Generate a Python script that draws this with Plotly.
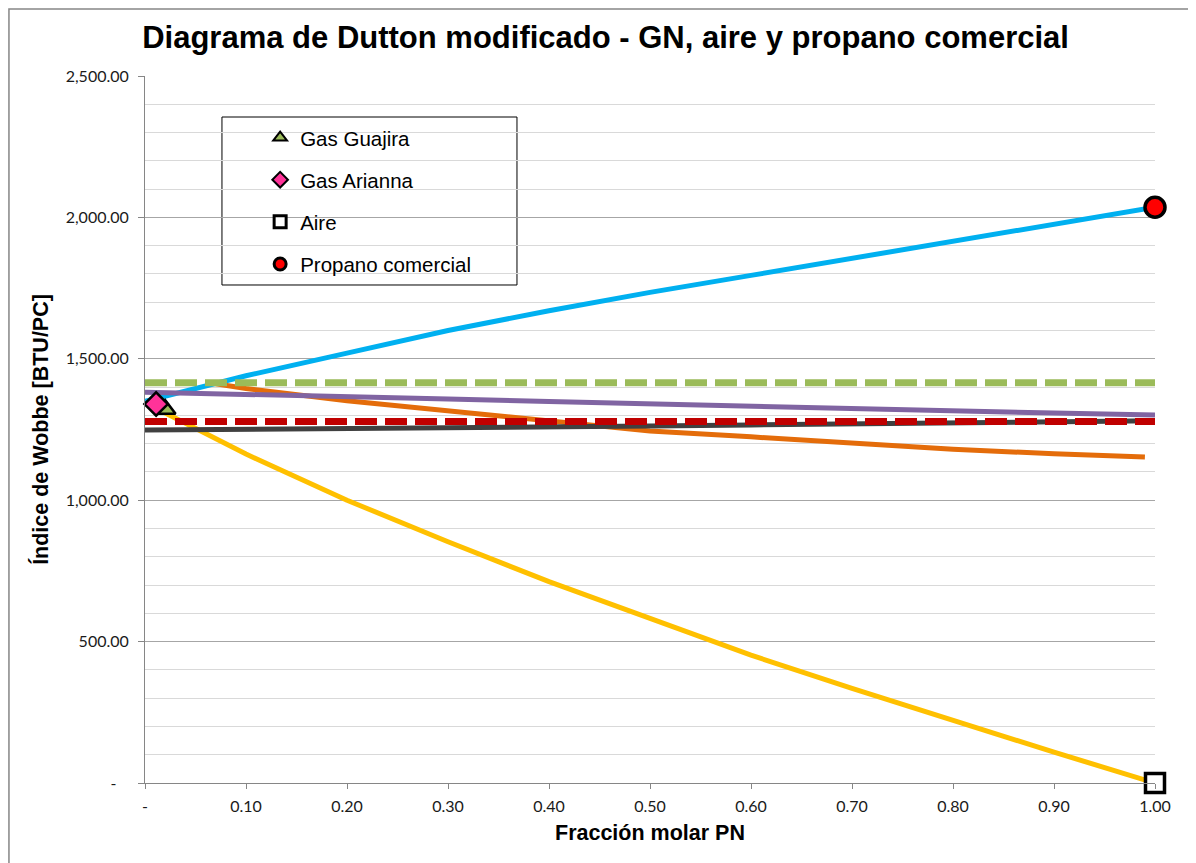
# =========================================================
# Diagrama de Dutton modificado - GN, aire y propano comercial
# =========================================================

import plotly.graph_objects as go


# =========================================================
# Datos
# =========================================================

fraccion_pn = [0.0, 0.1, 0.2, 0.3, 0.4, 0.5, 0.6, 0.7, 0.8, 0.9, 1.0]

wobbe_mezcla_propano = [1350, 1440, 1520, 1600, 1670, 1735, 1795, 1855, 1915, 1975, 2036]
wobbe_mezcla_aire = [1345, 1163, 1000, 853, 712, 580, 452, 335, 220, 109, 0]
wobbe_morado = [1382, 1375, 1367, 1358, 1349, 1340, 1331, 1323, 1315, 1308, 1301]
wobbe_gris = [1248, 1250, 1253, 1256, 1259, 1262, 1266, 1270, 1274, 1277, 1281]

fraccion_naranja = [0.07, 0.1, 0.2, 0.3, 0.4, 0.5, 0.6, 0.7, 0.8, 0.9, 0.99]
wobbe_naranja = [1412, 1395, 1352, 1316, 1281, 1245, 1224, 1200, 1180, 1164, 1153]

limite_x = [0.0, 1.0]
limite_superior = [1415, 1415]
limite_inferior = [1278, 1278]

puntos_nombres = ["Gas Guajira", "Gas Arianna", "Aire", "Propano comercial"]
puntos_x = [0.02, 0.011, 1.0, 1.0]
puntos_y = [1322, 1340, 0, 2036]

ticks_y = [0, 500, 1000, 1500, 2000, 2500]
ticks_x = [0.0, 0.1, 0.2, 0.3, 0.4, 0.5, 0.6, 0.7, 0.8, 0.9, 1.0]


# =========================================================
# Estilos
# =========================================================

marcadores = {
    "Gas Guajira": dict(symbol="triangle-up", color="#9BBB59", size=18, lw=2.5),
    "Gas Arianna": dict(symbol="diamond", color="#FF3399", size=18, lw=2.5),
    "Aire": dict(symbol="square", color="#FFFFFF", size=19, lw=3.5),
    "Propano comercial": dict(symbol="circle", color="#FF0000", size=20, lw=3.5),
}

FUENTE = "Liberation Sans, Arial, sans-serif"
FUENTE_EJES = "Lato, Calibri, sans-serif"


def etiqueta_y(v):
    if v == 0:
        return "-\u00a0\u00a0\u00a0"
    return f"{v:,.2f}"


def etiqueta_x(v):
    if v == 0:
        return "-"
    return f"{v:.2f}"


fig = go.Figure()


# =========================================================
# Líneas
# =========================================================

lineas = [
    (fraccion_pn, wobbe_mezcla_aire, "#FFC000", "solid", 5),
    (fraccion_pn, wobbe_mezcla_propano, "#00B0F0", "solid", 5),
    (fraccion_naranja, wobbe_naranja, "#E46C0A", "solid", 5),
    (fraccion_pn, wobbe_morado, "#8064A2", "solid", 5),
    (fraccion_pn, wobbe_gris, "#404040", "solid", 5),
    (limite_x, limite_inferior, "#C00000", "22px,8px", 7),
    (limite_x, limite_superior, "#9BBB59", "22px,8px", 7),
]

for xs, ys, color, dash, ancho in lineas:

    fig.add_trace(
        go.Scatter(
            x=xs,
            y=ys,
            mode="lines",
            line=dict(color=color, width=ancho, dash=dash),
            showlegend=False,
            hoverinfo="skip",
        )
    )


# =========================================================
# Puntos (gases puros)
# =========================================================

for nombre, px, py in zip(puntos_nombres, puntos_x, puntos_y):

    m = marcadores[nombre]

    fig.add_trace(
        go.Scatter(
            x=[px],
            y=[py],
            mode="markers",
            name=nombre,
            marker=dict(
                symbol=m["symbol"],
                color=m["color"],
                size=m["size"],
                line=dict(color="black", width=m["lw"]),
            ),
            cliponaxis=False,
            showlegend=False,
        )
    )

    # entrada de leyenda con marcador pequeño
    fig.add_trace(
        go.Scatter(
            x=[None],
            y=[None],
            mode="markers",
            name=nombre,
            legendgroup=nombre,
            marker=dict(
                symbol=m["symbol"],
                color=m["color"],
                size=12,
                line=dict(color="black", width=2 if m["lw"] < 3 else 3),
            ),
        )
    )


# =========================================================
# Layout
# (la página deja 8 px de margen, por eso el lienzo es 1188x855)
# =========================================================

fig.update_layout(
    width=1188,
    height=855,
    margin=dict(l=137, r=41, t=68, b=80),
    paper_bgcolor="white",
    plot_bgcolor="white",
    font=dict(family=FUENTE, color="black"),
    title=dict(
        text="<b>Diagrama de Dutton modificado - GN, aire y propano comercial</b>",
        x=0.503,
        xanchor="center",
        y=0.966,
        yanchor="middle",
        font=dict(family=FUENTE, size=31, color="black"),
    ),
    legend=dict(
        x=0.114,
        y=0.941,
        xanchor="left",
        yanchor="top",
        bgcolor="rgba(0,0,0,0)",
        borderwidth=0,
        font=dict(family=FUENTE, size=20.5, color="black"),
        tracegroupgap=12.5,
        traceorder="grouped",
    ),
    showlegend=True,
)

fig.update_xaxes(
    range=[0, 1],
    tickvals=ticks_x,
    ticktext=[etiqueta_x(v) for v in ticks_x],
    showgrid=False,
    zeroline=False,
    showline=True,
    linecolor="#868686",
    linewidth=1,
    ticks="outside",
    ticklen=5,
    tickcolor="#868686",
    ticklabelstandoff=4,
    tickfont=dict(family=FUENTE_EJES, size=16, color="#1a1a1a"),
    title=dict(
        text="<b>Fracción molar PN</b>",
        font=dict(family=FUENTE, size=21.5, color="black"),
        standoff=10,
    ),
)

fig.update_yaxes(
    range=[0, 2500],
    tickvals=ticks_y,
    ticktext=[etiqueta_y(v) for v in ticks_y],
    showgrid=True,
    gridcolor="#A6A6A6",
    gridwidth=1,
    minor=dict(dtick=100, showgrid=True, gridcolor="#D9D9D9", gridwidth=1),
    zeroline=False,
    showline=True,
    linecolor="#868686",
    linewidth=1,
    ticks="outside",
    ticklen=6,
    tickcolor="#868686",
    ticklabelstandoff=6,
    tickfont=dict(family=FUENTE_EJES, size=16, color="#1a1a1a"),
    title=dict(
        text="<b>Índice de Wobbe [BTU/PC]</b>",
        font=dict(family=FUENTE, size=21.5, color="black"),
        standoff=11,
    ),
)


# =========================================================
# Marco de la leyenda y borde exterior
# =========================================================

fig.add_shape(
    type="rect",
    xref="paper",
    yref="paper",
    x0=0.0762,
    x1=0.3683,
    y0=0.7044,
    y1=0.942,
    line=dict(color="black", width=1),
    fillcolor="white",
    layer="between",
)

fig.add_shape(
    type="rect",
    xref="paper",
    yref="paper",
    x0=-0.1347,
    x1=1.0366,
    y0=-0.125,
    y1=1.0948,
    line=dict(color="#868686", width=1.5),
    fillcolor="rgba(0,0,0,0)",
    layer="above",
)

fig.write_html("out.html")
